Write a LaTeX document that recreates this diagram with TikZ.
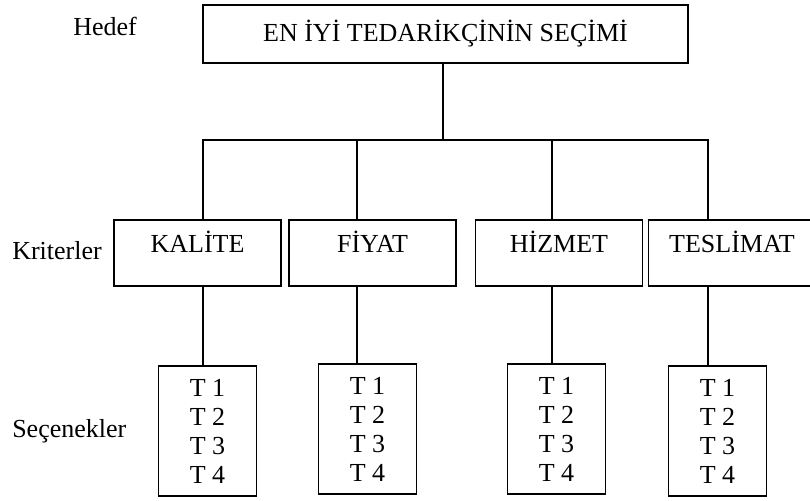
\documentclass[tikz,border=0pt]{standalone}
\usepackage{fontspec}
\setmainfont{Liberation Serif}
\usetikzlibrary{calc}

\tikzset{
  every node/.style={font=\fontsize{19.5}{21.75}\selectfont},
  lbl/.style={anchor=base west, inner sep=0pt},
  goalbox/.style={draw, line width=1.5pt, minimum width=363.75pt, minimum height=43.5pt, inner sep=0pt},
  critbox/.style={draw, line width=1.1pt, minimum width=125.25pt, minimum height=49.5pt, inner sep=0pt,
                  text height=13.5pt, text depth=15pt},
  optbox/.style={draw, line width=1.1pt, minimum width=73.5pt, minimum height=97.5pt, inner sep=0pt, align=center},
  link/.style={line width=1.1pt}
}

\begin{document}
\begin{tikzpicture}[x=0.75pt, y=-0.75pt, line cap=rect]
  \path[use as bounding box, clip] (0,0) rectangle (810,500);
  % level names on the left
  \node[lbl] (hedef) at (73,35) {Hedef};
  \node[lbl] (kriter) at (12,259) {Kriterler};
  \node[lbl] (secenek) at (12,437) {Seçenekler};
  % goal
  \node[goalbox] (goal) at (445.5,34) {EN İYİ TEDARİKÇİNİN SEÇİMİ};
  % criteria
  \node[critbox] (k1) at (197.5,253) {KALİTE};
  \node[critbox] (k2) at (372.5,253) {FİYAT};
  \node[critbox] (k3) at (559,253) {HİZMET};
  \node[critbox] (k4) at (732,253) {TESLİMAT};
  % alternatives
  \node[optbox] (o1) at (207.5,431) {T 1\\T 2\\T 3\\T 4};
  \node[optbox] (o2) at (367.5,429) {T 1\\T 2\\T 3\\T 4};
  \node[optbox] (o3) at (556.5,429) {T 1\\T 2\\T 3\\T 4};
  \node[optbox] (o4) at (717.5,431) {T 1\\T 2\\T 3\\T 4};
  % bus line
  \coordinate (hub) at (443,140);
  \coordinate (b1) at (203,140);
  \coordinate (b2) at (357,140);
  \coordinate (b3) at (552,140);
  \coordinate (b4) at (708,140);
  \draw[link] (goal.south -| hub) -- (hub);
  \draw[link] (b1) -- (b4);
  \foreach \i in {1,...,4} {
    \draw[link] (b\i) -- (b\i |- k\i.north);
    \draw[link] (b\i |- k\i.south) -- (b\i |- o\i.north);
  }
\end{tikzpicture}
\end{document}
